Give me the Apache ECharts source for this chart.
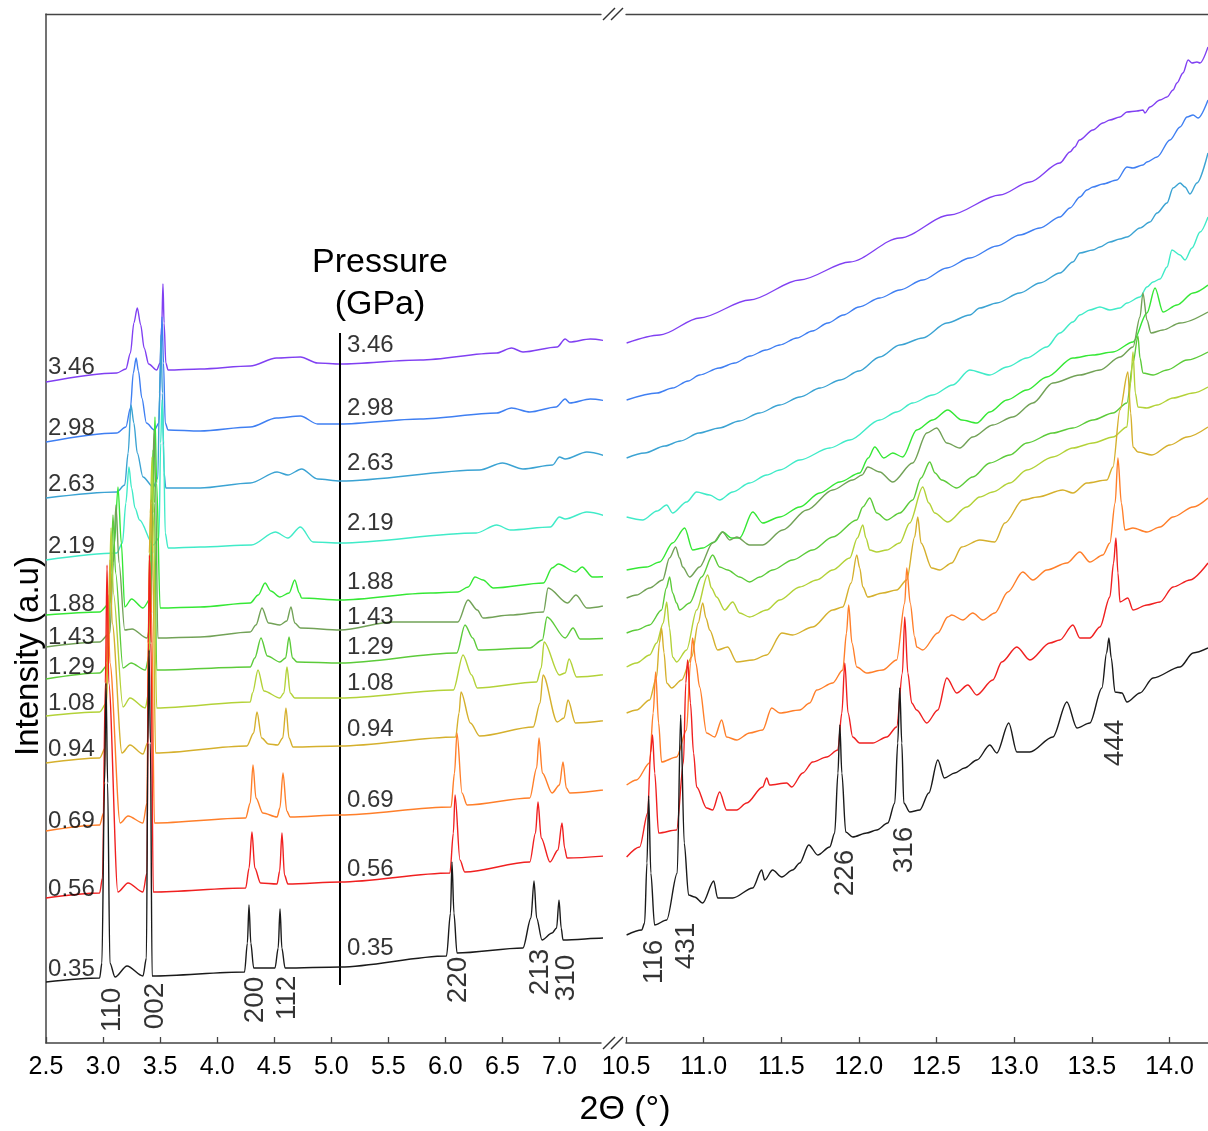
<!DOCTYPE html>
<html><head><meta charset="utf-8">
<script src="https://cdn.jsdelivr.net/npm/echarts@6/dist/echarts.min.js"></script>
<style>html,body{margin:0;padding:0;background:#fff}#c{width:1208px;height:1131px}</style>
</head><body><div id="c"></div>
<script>
// ---------- DATA ----------
const pressures = ['3.46','2.98','2.63','2.19','1.88','1.43','1.29','1.08','0.94','0.69','0.56','0.35'];
const colors = ['#8040F2','#3F7FF2','#3BA3D3','#40EBC8','#35E835','#72A257','#5CCB3A','#B3D238','#D5B02D','#FF7F2A','#F02020','#1A1A1A'];
const leftTicks = [2.5,3.0,3.5,4.0,4.5,5.0,5.5,6.0,6.5,7.0];
const rightTicks = [10.5,11.0,11.5,12.0,12.5,13.0,13.5,14.0];

const L346=[[2.50,661],[3.12,670],[3.20,674],[3.24,690],[3.27,720],[3.30,735],[3.33,718],[3.36,695],[3.40,679],[3.47,673],[3.50,680],[3.515,720],[3.525,759],[3.535,720],[3.55,680],[3.57,673],[3.85,674],[4.29,677],[4.52,685],[4.73,686],[4.88,680],[5.08,679],[5.78,683],[6.45,690],[6.58,695],[6.68,691],[6.98,696],[7.05,704],[7.09,701],[7.27,704],[7.50,700]];
const L298=[[2.50,601],[3.12,610],[3.20,616],[3.24,635],[3.265,670],[3.29,685],[3.31,672],[3.34,645],[3.38,620],[3.45,613],[3.49,620],[3.505,680],[3.517,726],[3.53,680],[3.545,620],[3.57,613],[3.85,612],[4.29,616],[4.52,625],[4.73,627],[4.88,619],[5.08,619],[5.78,624],[6.45,630],[6.58,635],[6.74,631],[6.97,636],[7.05,644],[7.09,640],[7.27,644],[7.50,640]];
const L263=[[2.50,545],[3.12,551],[3.19,558],[3.22,590],[3.245,638],[3.27,620],[3.30,590],[3.35,566],[3.44,556],[3.48,565],[3.495,650],[3.508,708],[3.52,650],[3.535,570],[3.55,555],[3.85,555],[4.29,560],[4.525,571],[4.62,568],[4.74,574],[4.88,564],[5.08,562],[6.30,573],[6.50,580],[6.68,574],[6.94,578],[7.00,586],[7.05,584],[7.24,591],[7.50,583]];
const L219=[[2.50,483],[3.12,490],[3.17,500],[3.20,540],[3.227,576],[3.25,555],[3.28,535],[3.32,523],[3.44,498],[3.49,505],[3.505,600],[3.517,643],[3.53,600],[3.545,510],[3.57,495],[3.85,496],[4.30,498],[4.51,511],[4.62,505],[4.73,516],[4.84,501],[5.08,500],[6.27,510],[6.45,518],[6.57,513],[6.92,516],[7.00,526],[7.05,524],[7.24,531],[7.50,523]];
const L188=[[2.50,428],[2.97,431],[3.06,440],[3.10,500],[3.131,556],[3.16,500],[3.19,436],[3.25,444],[3.35,435],[3.42,445],[3.44,560],[3.455,626],[3.47,560],[3.50,435],[3.85,436],[4.29,440],[4.36,448],[4.42,460],[4.47,452],[4.55,446],[4.63,450],[4.68,463],[4.72,450],[4.74,445],[5.08,443],[5.87,450],[6.11,451],[6.20,456],[6.26,466],[6.33,463],[6.42,455],[6.86,460],[6.935,475],[6.99,479],[7.14,471],[7.198,476],[7.29,466],[7.50,467]];
const L143=[[2.50,396],[2.97,401],[3.06,410],[3.09,480],[3.113,538],[3.14,480],[3.19,413],[3.254,414],[3.385,405],[3.42,420],[3.435,560],[3.447,613],[3.46,560],[3.48,405],[3.85,406],[4.29,411],[4.34,418],[4.393,435],[4.45,420],[4.55,418],[4.61,422],[4.647,436],[4.68,420],[4.73,415],[5.08,413],[5.54,421],[6.11,421],[6.198,443],[6.28,433],[6.33,425],[6.57,428],[6.86,431],[6.90,455],[7.07,440],[7.145,448],[7.24,435],[7.50,440]];
const L129=[[2.50,364],[2.97,370],[3.04,378],[3.07,470],[3.087,528],[3.11,470],[3.175,375],[3.245,380],[3.37,373],[3.41,390],[3.425,540],[3.438,593],[3.45,540],[3.47,373],[4.29,376],[4.33,385],[4.384,405],[4.44,387],[4.55,381],[4.60,385],[4.63,406],[4.66,385],[4.70,381],[5.08,380],[6.10,390],[6.172,418],[6.24,405],[6.29,393],[6.74,395],[6.85,403],[6.891,426],[7.05,405],[7.119,415],[7.18,404],[7.50,405]];
const L108=[[2.50,327],[2.97,331],[3.03,340],[3.055,450],[3.07,515],[3.09,450],[3.175,336],[3.236,345],[3.37,335],[3.40,350],[3.415,530],[3.429,586],[3.44,530],[3.47,335],[4.29,341],[4.31,350],[4.358,373],[4.41,352],[4.55,345],[4.585,350],[4.612,376],[4.64,350],[4.68,345],[5.08,345],[6.07,353],[6.155,388],[6.23,368],[6.28,355],[6.80,361],[6.84,375],[6.865,401],[7.00,368],[7.05,370],[7.084,384],[7.15,366],[7.50,370]];
const L094=[[2.50,280],[2.97,285],[3.02,295],[3.045,420],[3.061,483],[3.08,420],[3.166,290],[3.236,298],[3.35,289],[3.39,300],[3.405,490],[3.42,543],[3.435,490],[3.46,290],[4.26,297],[4.32,310],[4.349,331],[4.39,305],[4.45,299],[4.53,298],[4.575,305],[4.603,335],[4.63,305],[4.665,296],[5.08,297],[6.09,306],[6.12,330],[6.137,351],[6.22,320],[6.30,307],[6.77,316],[6.83,340],[6.856,368],[6.98,321],[7.04,325],[7.075,343],[7.14,320],[7.50,324]];
const L069=[[2.50,212],[2.97,218],[3.005,230],[3.03,380],[3.043,448],[3.06,380],[3.15,220],[3.219,227],[3.35,220],[3.385,240],[3.40,430],[3.411,481],[3.425,430],[3.45,220],[4.25,225],[4.29,240],[4.314,278],[4.34,245],[4.40,230],[4.525,226],[4.55,235],[4.577,270],[4.61,232],[4.64,226],[5.08,228],[6.05,236],[6.08,270],[6.102,310],[6.146,250],[6.19,238],[6.74,245],[6.80,275],[6.821,305],[6.85,270],[6.935,250],[7.00,258],[7.031,281],[7.06,255],[7.09,250],[7.50,255]];
const L056=[[2.50,145],[2.97,150],[2.995,165],[3.02,360],[3.035,478],[3.05,360],[3.13,151],[3.219,160],[3.35,151],[3.385,170],[3.397,400],[3.407,488],[3.42,400],[3.44,151],[4.25,155],[4.28,175],[4.305,211],[4.33,175],[4.38,160],[4.525,159],[4.548,172],[4.568,210],[4.59,168],[4.62,159],[5.08,161],[6.04,170],[6.07,210],[6.085,248],[6.128,183],[6.17,171],[6.74,181],[6.79,210],[6.812,241],[6.84,205],[6.917,181],[6.987,193],[7.022,220],[7.045,195],[7.066,185],[7.50,188]];
const L035=[[2.50,61],[2.97,65],[2.99,80],[3.013,260],[3.026,360],[3.04,260],[3.06,80],[3.105,66],[3.21,77],[3.35,67],[3.38,85],[3.393,300],[3.403,393],[3.415,300],[3.43,67],[4.24,71],[4.265,100],[4.279,138],[4.295,100],[4.32,75],[4.507,75],[4.535,95],[4.551,134],[4.567,95],[4.595,75],[5.08,76],[6.01,87],[6.045,130],[6.058,181],[6.075,130],[6.102,90],[6.68,95],[6.75,125],[6.777,162],[6.80,125],[6.847,103],[6.935,110],[6.975,115],[6.996,143],[7.015,115],[7.031,103],[7.417,105],[7.443,110],[7.50,103]];

const R346=[[10.504,700],[10.717,708],[10.974,725],[11.296,743],[11.619,763],[11.941,781],[12.263,805],[12.585,828],[12.907,848],[13.101,861],[13.294,880],[13.359,891],[13.39,896],[13.42,903],[13.507,913],[13.571,920],[13.616,923],[13.681,926],[13.726,931],[13.79,932],[13.829,933],[13.842,930],[13.874,936],[13.939,943],[13.984,946],[14.023,953],[14.048,960],[14.087,970],[14.12,983],[14.145,980],[14.177,981],[14.197,980],[14.248,996]];
const R298=[[10.504,643],[10.70,650],[10.80,655],[10.90,662],[10.974,668],[11.10,675],[11.20,680],[11.30,687],[11.40,693],[11.49,698],[11.60,705],[11.70,712],[11.80,720],[11.90,728],[12.00,736],[12.134,745],[12.263,753],[12.411,763],[12.566,775],[12.714,785],[12.888,797],[13.036,808],[13.165,815],[13.294,826],[13.359,835],[13.423,846],[13.468,853],[13.507,856],[13.571,859],[13.661,863],[13.726,876],[13.765,875],[13.829,878],[13.855,881],[13.92,886],[14.003,903],[14.068,916],[14.113,926],[14.152,928],[14.184,925],[14.248,943]];
const R263=[[10.504,585],[10.62,590],[10.75,597],[10.85,602],[10.97,610],[11.10,615],[11.23,622],[11.36,630],[11.49,638],[11.62,646],[11.75,655],[11.88,663],[12.00,672],[12.134,686],[12.263,698],[12.411,705],[12.566,720],[12.714,728],[12.778,735],[12.888,740],[13.036,750],[13.165,760],[13.294,770],[13.378,781],[13.423,790],[13.507,793],[13.552,796],[13.616,801],[13.681,804],[13.726,806],[13.81,815],[13.874,821],[13.92,830],[13.984,840],[14.023,855],[14.068,860],[14.10,856],[14.132,849],[14.177,860],[14.248,890]];
const R219=[[10.504,526],[10.607,523],[10.70,532],[10.762,538],[10.80,530],[10.89,541],[10.955,551],[11.039,548],[11.103,543],[11.187,551],[11.296,560],[11.406,568],[11.49,573],[11.619,583],[11.812,595],[11.941,603],[12.134,623],[12.243,631],[12.346,640],[12.475,648],[12.604,658],[12.714,673],[12.843,668],[12.953,676],[13.081,685],[13.21,696],[13.294,710],[13.378,721],[13.423,728],[13.487,733],[13.552,736],[13.616,733],[13.681,735],[13.726,740],[13.81,746],[13.855,756],[13.894,761],[13.939,764],[13.984,776],[14.016,793],[14.068,788],[14.10,783],[14.145,795],[14.197,811],[14.248,826]];
const R188=[[10.504,473],[10.633,476],[10.717,481],[10.80,500],[10.878,515],[10.929,493],[10.994,495],[11.071,501],[11.122,511],[11.18,505],[11.232,505],[11.316,531],[11.38,520],[11.49,526],[11.619,536],[11.747,550],[11.877,561],[12.005,570],[12.06,585],[12.102,596],[12.16,585],[12.218,590],[12.282,586],[12.372,613],[12.475,623],[12.572,633],[12.662,623],[12.759,620],[12.843,631],[12.953,643],[13.081,653],[13.21,666],[13.378,685],[13.507,688],[13.636,691],[13.765,701],[13.855,730],[13.907,755],[13.958,731],[14.048,738],[14.152,750],[14.248,758]];
const R143=[[10.504,445],[10.568,448],[10.652,455],[10.736,463],[10.78,485],[10.82,496],[10.845,485],[10.865,476],[10.91,466],[10.974,476],[11.058,500],[11.122,511],[11.168,503],[11.213,506],[11.296,498],[11.38,498],[11.509,513],[11.664,533],[11.831,553],[11.96,563],[12.02,568],[12.057,576],[12.134,571],[12.218,561],[12.346,580],[12.437,610],[12.501,615],[12.566,600],[12.649,595],[12.733,606],[12.862,618],[12.991,626],[13.12,640],[13.249,660],[13.423,668],[13.552,673],[13.681,686],[13.765,696],[13.81,726],[13.829,750],[13.855,723],[13.881,710],[13.958,713],[14.068,720],[14.248,731]];
const R129=[[10.504,410],[10.568,413],[10.652,418],[10.729,433],[10.76,455],[10.781,466],[10.80,450],[10.826,440],[10.845,433],[10.91,440],[10.987,466],[11.058,488],[11.103,476],[11.155,473],[11.232,466],[11.296,461],[11.361,466],[11.444,473],[11.573,483],[11.702,493],[11.831,506],[11.986,523],[12.025,536],[12.07,545],[12.115,530],[12.179,523],[12.263,530],[12.346,543],[12.40,565],[12.456,581],[12.49,570],[12.533,563],[12.63,555],[12.733,566],[12.843,580],[12.972,588],[13.081,600],[13.249,610],[13.378,615],[13.507,623],[13.636,630],[13.726,640],[13.765,680],[13.797,707],[13.81,685],[13.829,670],[13.894,668],[13.984,673],[14.113,683],[14.248,691]];
const R108=[[10.504,376],[10.568,380],[10.652,388],[10.697,400],[10.74,420],[10.762,441],[10.78,415],[10.80,386],[10.826,381],[10.89,393],[10.955,433],[11.026,468],[11.05,455],[11.084,446],[11.135,433],[11.187,441],[11.232,430],[11.296,426],[11.406,433],[11.49,443],[11.619,456],[11.728,463],[11.831,473],[11.941,485],[11.99,505],[12.025,518],[12.045,505],[12.07,493],[12.115,491],[12.179,493],[12.263,500],[12.327,520],[12.411,556],[12.45,540],[12.488,530],[12.572,521],[12.694,536],[12.778,546],[12.862,551],[12.972,560],[13.081,573],[13.249,586],[13.378,595],[13.507,600],[13.636,606],[13.726,616],[13.75,660],[13.765,691],[13.78,650],[13.797,636],[13.855,635],[13.92,638],[14.023,645],[14.152,650],[14.248,656]];
const R094=[[10.504,330],[10.568,333],[10.652,343],[10.697,366],[10.715,400],[10.729,415],[10.745,390],[10.762,360],[10.794,355],[10.858,363],[10.923,386],[10.965,420],[10.994,440],[11.015,425],[11.039,413],[11.09,393],[11.155,396],[11.213,381],[11.316,383],[11.406,388],[11.503,410],[11.573,408],[11.702,416],[11.831,433],[11.896,436],[11.95,460],[11.986,488],[12.005,475],[12.025,456],[12.057,446],[12.153,450],[12.243,453],[12.308,463],[12.359,506],[12.379,526],[12.40,500],[12.469,475],[12.52,473],[12.598,480],[12.662,496],[12.778,503],[12.875,501],[12.94,520],[13.055,543],[13.152,546],[13.313,553],[13.378,550],[13.468,560],[13.597,563],[13.636,576],[13.681,633],[13.732,671],[13.75,630],[13.765,596],[13.797,591],[13.887,588],[14.003,598],[14.113,606],[14.248,616]];
const R069=[[10.504,258],[10.568,263],[10.652,280],[10.675,330],[10.691,371],[10.71,320],[10.729,281],[10.826,286],[10.89,313],[10.915,380],[10.929,405],[10.95,380],[10.974,356],[11.019,310],[11.071,306],[11.116,323],[11.148,306],[11.213,303],[11.296,310],[11.38,313],[11.438,335],[11.49,330],[11.619,333],[11.683,340],[11.728,353],[11.831,360],[11.896,373],[11.92,410],[11.934,438],[11.955,400],[11.986,376],[12.05,370],[12.153,373],[12.243,383],[12.295,440],[12.308,475],[12.33,440],[12.359,406],[12.372,396],[12.411,393],[12.508,410],[12.572,426],[12.598,428],[12.669,423],[12.733,430],[12.798,423],[12.875,430],[12.959,451],[13.055,471],[13.12,463],[13.21,473],[13.339,480],[13.423,491],[13.487,481],[13.571,488],[13.616,500],[13.65,540],[13.668,585],[13.69,540],[13.713,513],[13.765,515],[13.855,511],[13.939,516],[14.023,526],[14.152,536],[14.248,545]];
const R056=[[10.504,186],[10.588,196],[10.64,230],[10.658,290],[10.671,308],[10.685,270],[10.71,210],[10.826,213],[10.87,280],[10.885,360],[10.897,383],[10.915,340],[10.935,290],[10.955,256],[11.019,235],[11.058,233],[11.103,251],[11.148,233],[11.213,233],[11.277,240],[11.38,256],[11.406,265],[11.425,258],[11.535,260],[11.567,256],[11.638,270],[11.702,281],[11.793,286],[11.864,293],[11.89,330],[11.909,380],[11.93,330],[11.96,306],[12.005,300],[12.089,300],[12.179,306],[12.243,316],[12.28,370],[12.295,426],[12.315,370],[12.34,340],[12.372,333],[12.437,320],[12.508,333],[12.566,365],[12.63,350],[12.701,358],[12.759,348],[12.862,363],[12.92,381],[13.017,396],[13.101,383],[13.23,400],[13.294,403],[13.378,418],[13.423,405],[13.487,405],[13.552,416],[13.616,446],[13.64,480],[13.655,505],[13.668,470],[13.681,441],[13.732,445],[13.765,433],[13.855,438],[13.939,441],[14.023,456],[14.132,463],[14.248,480]];
const R035=[[10.504,108],[10.601,113],[10.62,120],[10.635,180],[10.646,247],[10.66,170],[10.684,118],[10.762,123],[10.83,170],[10.852,328],[10.875,200],[10.903,148],[10.942,146],[10.994,140],[11.065,162],[11.09,145],[11.187,145],[11.316,155],[11.374,173],[11.393,163],[11.444,173],[11.503,166],[11.573,173],[11.619,180],[11.677,198],[11.735,188],[11.812,196],[11.844,210],[11.865,270],[11.877,318],[11.89,270],[11.915,211],[11.96,206],[12.05,210],[12.115,213],[12.186,220],[12.231,240],[12.25,300],[12.263,355],[12.276,300],[12.289,240],[12.327,231],[12.392,233],[12.45,250],[12.508,283],[12.55,265],[12.617,270],[12.68,275],[12.76,283],[12.843,298],[12.888,290],[12.965,320],[13.017,291],[13.101,291],[13.249,306],[13.339,341],[13.404,315],[13.487,320],[13.565,355],[13.595,390],[13.61,405],[13.625,385],[13.649,351],[13.694,350],[13.726,341],[13.81,350],[13.894,365],[14.068,376],[14.152,390],[14.248,395]];

const leftSeg  = [L346,L298,L263,L219,L188,L143,L129,L108,L094,L069,L056,L035];
const rightSeg = [R346,R298,R263,R219,R188,R143,R129,R108,R094,R069,R056,R035];

// label levels (intensity, a.u.) for the two pressure label columns
const leftLabelLevels = [676,615,559,497,439,406,376,340,294,222,154,74];
const midLabelLevels  = [698,635,580,520,461,426,396,360,314,243,174,95];
const leftLabelTheta = 2.518, midLabelTheta = 5.138;
const pressureLine = [[5.077,58],[5.077,710]];

// hkl reflection labels: [text, 2theta, intensity]
const hklLeft  = [['110',3.078,33],['002',3.455,37],['200',4.332,43],['112',4.612,45],['220',6.111,63],['213',6.83,71],['310',7.057,65]];
const hklRight = [['116',10.684,81],['431',10.89,97],['226',11.915,170],['316',12.289,193],['444',13.649,300]];

// ---------- CHART ----------
const F = 'Liberation Sans, Arial, sans-serif';
const chart = echarts.init(document.getElementById('c'), null, {renderer:'canvas'});
const axisCol = '#444';
function bottomAxis(gi, min, max, ticks){
  return {gridIndex:gi, type:'value', position:'bottom', min:min, max:max,
    axisLine:{show:true, onZero:false, lineStyle:{color:axisCol, width:1.5}},
    axisTick:{show:true, inside:true, length:6, customValues:ticks, lineStyle:{color:axisCol, width:1.3}},
    axisLabel:{show:true, customValues:ticks, formatter:v=>v.toFixed(1), fontSize:25, color:'#000', fontFamily:F, margin:12},
    splitLine:{show:false}};
}
function topAxis(gi, min, max){
  return {gridIndex:gi, type:'value', position:'top', min:min, max:max,
    axisLine:{show:true, onZero:false, lineStyle:{color:axisCol, width:1.3}},
    axisTick:{show:false}, axisLabel:{show:false}, splitLine:{show:false}};
}
const series = [];
pressures.forEach((p,i)=>{
  series.push({type:'line', xAxisIndex:0, yAxisIndex:0, data:leftSeg[i], showSymbol:false, symbol:'none', clip:false, silent:true,
    smooth:0.3, smoothMonotone:'x', lineStyle:{color:colors[i], width:1.4}, z:3+i});
  series.push({type:'line', xAxisIndex:1, yAxisIndex:1, data:rightSeg[i], showSymbol:false, symbol:'none', clip:false, silent:true,
    smooth:0.3, smoothMonotone:'x', lineStyle:{color:colors[i], width:1.4}, z:3+i});
});
const txt = {show:true, color:'#000', fontFamily:F};
series.push({type:'scatter', xAxisIndex:0, yAxisIndex:0, symbolSize:0, silent:true, z:20,
  data: pressures.map((p,i)=>({value:[leftLabelTheta,leftLabelLevels[i]], name:p})),
  label:Object.assign({}, txt, {position:'right', distance:0, fontSize:24, formatter:d=>d.name}),
  markLine:{symbol:'none', silent:true, animation:false, label:{show:false}, lineStyle:{color:'#000', width:2, type:'solid'},
    data:[[{coord:pressureLine[0]},{coord:pressureLine[1]}]]}
});
series.push({type:'scatter', xAxisIndex:0, yAxisIndex:0, symbolSize:0, silent:true, z:20,
  data: pressures.map((p,i)=>({value:[midLabelTheta,midLabelLevels[i]], name:p})),
  label:Object.assign({}, txt, {position:'right', distance:0, fontSize:24, formatter:d=>d.name})
});
series.push({type:'scatter', xAxisIndex:0, yAxisIndex:0, symbolSize:0, silent:true, z:20,
  data: hklLeft.map(h=>({value:[h[1],h[2]], name:h[0]})),
  label:Object.assign({}, txt, {position:'inside', rotate:90, fontSize:28, formatter:d=>d.name})
});
series.push({type:'scatter', xAxisIndex:1, yAxisIndex:1, symbolSize:0, silent:true, z:20,
  data: hklRight.map(h=>({value:[h[1],h[2]], name:h[0]})),
  label:Object.assign({}, txt, {position:'inside', rotate:90, fontSize:28, formatter:d=>d.name})
});

function tx(x,y,text,size,rot){
  return {type:'text', x:x, y:y, rotation:rot||0, silent:true,
    style:{text:text, fontSize:size, fontFamily:F, fill:'#000', align:'center', verticalAlign:'middle', textAlign:'center', textVerticalAlign:'middle'}};
}
function ln(x1,y1,x2,y2){
  return {type:'line', silent:true, shape:{x1:x1,y1:y1,x2:x2,y2:y2}, style:{stroke:'#333', lineWidth:1.5}};
}

chart.setOption({
  animation:false,
  backgroundColor:'#fff',
  grid:[{left:46, top:14, width:555, bottom:88},{left:626, top:14, right:0, bottom:88}],
  xAxis:[bottomAxis(0,2.5,7.364,leftTicks), bottomAxis(1,10.5,14.248,rightTicks), topAxis(0,2.5,7.364), topAxis(1,10.5,14.248)],
  yAxis:[
    {gridIndex:0, type:'value', min:0, max:1029, axisLine:{show:true, lineStyle:{color:axisCol, width:1.5}}, axisTick:{show:false}, axisLabel:{show:false}, splitLine:{show:false}},
    {gridIndex:1, type:'value', min:0, max:1029, show:false}
  ],
  series:series,
  graphic:[
    tx(380,263,'Pressure',34), tx(380,305,'(GPa)',34),
    tx(29,656,'Intensity (a.u)',33,Math.PI/2),
    tx(625,1110,'2\u0398 (\u00B0)',34),
    ln(603,1049,615,1037), ln(611,1049,623,1037),
    ln(603,20,615,8), ln(611,20,623,8)
  ]
});
</script>
</body></html>
